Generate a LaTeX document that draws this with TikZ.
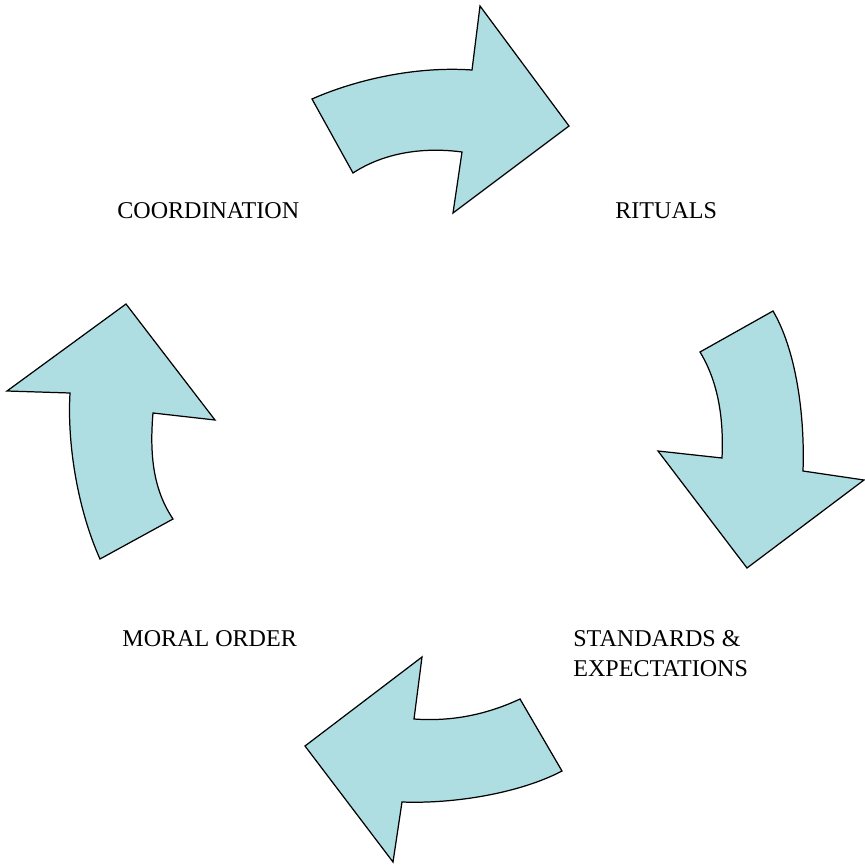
\documentclass[tikz,border=0pt]{standalone}
\usepackage{fontspec}
\setmainfont{Liberation Serif}

\definecolor{arrowfill}{RGB}{174,222,226}
\tikzset{
  blockarrow/.style={fill=arrowfill, draw=black, line width=0.7pt, line join=miter},
  label/.style={inner sep=0pt, font=\fontsize{13.7}{17}\selectfont}
}

\begin{document}
\begin{tikzpicture}[x=0.02cm, y=-0.02cm]
  \useasboundingbox (0,0) rectangle (865,865);

  % top arrow, pointing right
  \draw[blockarrow] (312,99) .. controls (355,80) and (415,66) .. (472,70)
    -- (480,6) -- (569,126) -- (453,213) -- (462,152)
    .. controls (425,147) and (385,152) .. (353,173) -- cycle;

  % right arrow, pointing down
  \draw[blockarrow] (773,311) .. controls (796,350) and (805,415) .. (803,471)
    -- (864,480) -- (747,568) -- (658,451) -- (722,458)
    .. controls (724,415) and (717,380) .. (700,352) -- cycle;

  % bottom arrow, pointing left
  \draw[blockarrow] (520,699) .. controls (490,713) and (455,722) .. (414,719)
    -- (422,657) -- (305,746) -- (393,862) -- (402,802)
    .. controls (455,804) and (520,793) .. (562,771) -- cycle;

  % left arrow, pointing up
  \draw[blockarrow] (100,559) .. controls (78,510) and (67,445) .. (70,393)
    -- (7,391) -- (126,304) -- (215,420) -- (153,413)
    .. controls (149,460) and (155,492) .. (173,519) -- cycle;

  % labels
  \node[label, anchor=west] (coordination) at (117,211) {COORDINATION};
  \node[label, anchor=west] (rituals) at (615,211) {RITUALS};
  \node[label, anchor=west] (moral) at (122,639) {MORAL ORDER};
  \node[label, anchor=north west, align=left] (standards) at (573,630)
    {STANDARDS \&\\EXPECTATIONS};
\end{tikzpicture}
\end{document}
